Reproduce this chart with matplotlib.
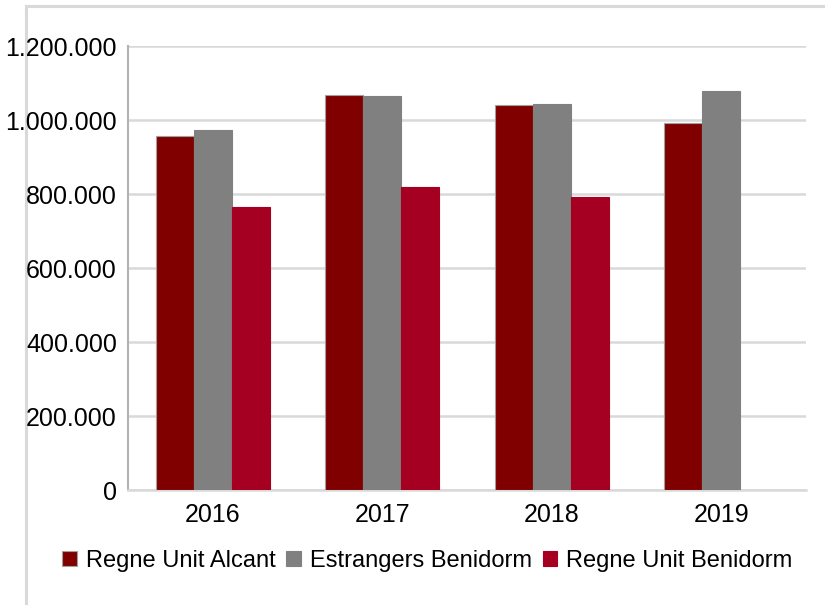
import numpy as np
import matplotlib
matplotlib.use("Agg")
import matplotlib.pyplot as plt
from matplotlib.lines import Line2D
from matplotlib.ticker import FuncFormatter

plt.rcParams['font.family'] = ['Liberation Sans', 'DejaVu Sans']

### Données
anys = ["2016", "2017", "2018", "2019"]
regne_unit_alcant = [957000, 1068000, 1040000, 992000]
estrangers_benidorm = [973000, 1065000, 1043000, 1078000]
regne_unit_benidorm = [765000, 819000, 792000, np.nan]

series = ["Regne Unit Alcant", "Estrangers Benidorm", "Regne Unit Benidorm"]
colors = ["#800000", "#808080", "#a50021"]

fig = plt.figure(figsize=(8.25, 6.05), dpi=100)

### Cadre extérieur (partiellement visible)
fig.add_artist(Line2D([26/825, 26/825], [0, 1 - 6/605], color="#d9d9d9", lw=2.2,
                      transform=fig.transFigure, zorder=-1))
fig.add_artist(Line2D([26/825, 1], [1 - 6/605, 1 - 6/605], color="#d9d9d9", lw=2.2,
                      transform=fig.transFigure, zorder=-1))

ax = fig.add_axes([128/825, 115/605, 678/825, 444/605])

x = np.arange(len(anys))
w = 0.224
for i, (vals, c) in enumerate(zip([regne_unit_alcant, estrangers_benidorm, regne_unit_benidorm], colors)):
    ax.bar(x + (i - 1) * w, vals, width=w, color=c, label=series[i], zorder=3,
           edgecolor="#a0a0a0" if i == 0 else c, linewidth=0.8)

ax.set_xlim(-0.5, 3.5)
ax.set_ylim(0, 1200000)
ax.set_yticks(np.arange(0, 1200001, 200000))
ax.yaxis.set_major_formatter(FuncFormatter(lambda v, p: "0" if v == 0 else f"{int(v):,}".replace(",", ".")))
ax.set_xticks(x)
ax.set_xticklabels(anys)
ax.tick_params(axis="both", length=0, labelsize=18, colors="black")
ax.tick_params(axis="y", pad=8)
ax.tick_params(axis="x", pad=9)
ax.grid(axis="y", color="#d9d9d9", lw=1.8, zorder=0)

for s in ["top", "right"]:
    ax.spines[s].set_visible(False)
ax.spines["left"].set_color("#b3b3b3")
ax.spines["left"].set_linewidth(1.5)
ax.spines["bottom"].set_color("#d9d9d9")
ax.spines["bottom"].set_linewidth(1.8)

leg = fig.legend(loc="center", bbox_to_anchor=(427.5/825, 1 - 561/605), ncol=3, frameon=False,
                 fontsize=17, handlelength=0.6, handleheight=0.6, handletextpad=0.4, columnspacing=0.45)

fig.savefig("out.png", dpi=100)
